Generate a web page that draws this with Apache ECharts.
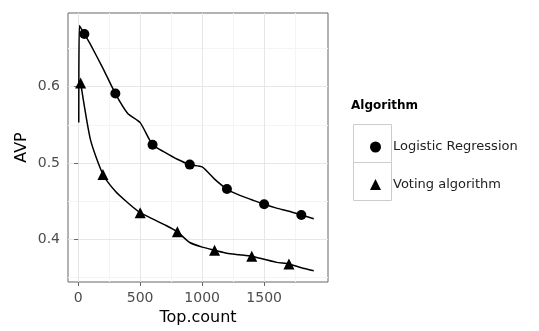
<!DOCTYPE html>
<html>
<head>
<meta charset="utf-8">
<script src="https://cdn.jsdelivr.net/npm/echarts@6/dist/echarts.min.js"></script>
<style>
  html, body { margin: 0; padding: 0; background: #fff; }
  #chart { width: 539px; height: 331px; }
</style>
</head>
<body>
<div id="chart"></div>
<script>
// values
const lrCounts = [5, 10, 50, 100, 200, 300, 400, 500, 600, 700, 800, 900, 1000, 1100, 1200, 1300, 1400, 1500, 1600, 1700, 1800, 1900]
const lrAvp = [0.553, 0.680, 0.669, 0.655, 0.624, 0.591, 0.565, 0.553, 0.524, 0.514, 0.505, 0.498, 0.495, 0.479, 0.466, 0.458, 0.452, 0.446, 0.441, 0.437, 0.432, 0.427]
const lrMarked = [50, 300, 600, 900, 1200, 1500, 1800]

const voteCounts = [20, 100, 200, 300, 400, 500, 600, 700, 800, 900, 1000, 1100, 1200, 1300, 1400, 1500, 1600, 1700, 1800, 1900]
const voteAvp = [0.605, 0.530, 0.485, 0.463, 0.448, 0.435, 0.427, 0.419, 0.410, 0.396, 0.390, 0.386, 0.382, 0.380, 0.378, 0.374, 0.370, 0.368, 0.363, 0.359]
const voteMarked = [20, 200, 500, 800, 1100, 1400, 1700]

const xTicks = [0, 500, 1000, 1500]
const xMinor = [250, 750, 1250, 1750]
const yTicks = [0.4, 0.5, 0.6]
const yMinor = [0.35, 0.45, 0.55, 0.65]

const SERIES_NAMES = ['Logistic Regression', 'Voting algorithm']
const FONT = 'DejaVu Sans'

const pairs = (xs, ys) => xs.map((x, i) => [x, ys[i]])
const marked = (xs, ys, keep) => pairs(xs, ys).filter((p) => keep.includes(p[0]))

const chart = echarts.init(document.getElementById('chart'))

const gridLines = [
  ...xMinor.map((v) => ({ xAxis: v, lineStyle: { color: '#f4f4f4' } })),
  ...yMinor.map((v) => ({ yAxis: v, lineStyle: { color: '#f4f4f4' } })),
  ...xTicks.map((v) => ({ xAxis: v, lineStyle: { color: '#e6e6e6' } })),
  ...yTicks.map((v) => ({ yAxis: v, lineStyle: { color: '#e6e6e6' } }))
]

const option = {
  animation: false,
  textStyle: { fontFamily: FONT },
  title: {
    text: 'Algorithm',
    left: 351,
    top: 100,
    padding: 0,
    textStyle: { fontFamily: FONT, fontSize: 12, fontWeight: 'bold', color: '#000' }
  },
  grid: {
    left: 68,
    top: 13,
    width: 260,
    height: 271,
    show: true,
    borderColor: '#666',
    borderWidth: 1,
    backgroundColor: '#fff'
  },
  legend: {
    data: SERIES_NAMES,
    orient: 'vertical',
    left: 365,
    top: 134,
    itemWidth: 11,
    itemHeight: 11,
    itemGap: 21.5,
    selectedMode: false,
    textStyle: { fontFamily: FONT, fontSize: 13, color: '#222', lineHeight: 16, padding: [0, 0, 0, 7] }
  },
  graphic: [
    { type: 'rect', left: 351, top: 122, shape: { width: 38, height: 38 }, style: { fill: 'none', stroke: '#cccccc', lineWidth: 1 }, z: -1 },
    { type: 'rect', left: 351, top: 160, shape: { width: 38, height: 38 }, style: { fill: 'none', stroke: '#cccccc', lineWidth: 1 }, z: -1 }
  ],
  xAxis: {
    type: 'value',
    min: -82,
    max: 2015,
    name: 'Top.count',
    nameLocation: 'middle',
    nameGap: 28,
    nameTextStyle: { fontFamily: FONT, fontSize: 16, color: '#000' },
    axisLine: { show: false },
    axisTick: { show: true, length: 4, customValues: xTicks, lineStyle: { color: '#666' } },
    axisLabel: { customValues: xTicks, margin: 9, fontFamily: FONT, fontSize: 14, color: '#4d4d4d', formatter: (v) => String(v) },
    splitLine: { show: false }
  },
  yAxis: {
    type: 'value',
    min: 0.3443,
    max: 0.6965,
    name: 'AVP',
    nameLocation: 'middle',
    nameGap: 38,
    nameTextStyle: { fontFamily: FONT, fontSize: 16, color: '#000' },
    axisLine: { show: false },
    axisTick: { show: true, length: 4, customValues: yTicks, lineStyle: { color: '#666' } },
    axisLabel: { customValues: yTicks, margin: 8, fontFamily: FONT, fontSize: 14, color: '#4d4d4d', formatter: (v) => v.toFixed(1) },
    splitLine: { show: false }
  },
  series: [
    {
      name: 'grid',
      type: 'line',
      data: [],
      silent: true,
      z: 0,
      markLine: {
        silent: true,
        z: 0,
        symbol: 'none',
        label: { show: false },
        lineStyle: { type: 'solid', width: 1 },
        emphasis: { disabled: true },
        data: gridLines
      }
    },
    {
      name: 'lr-line',
      type: 'line',
      data: pairs(lrCounts, lrAvp),
      showSymbol: false,
      smooth: 0.2,
      lineStyle: { color: '#000', width: 1.5 },
      z: 2
    },
    {
      name: 'vote-line',
      type: 'line',
      data: pairs(voteCounts, voteAvp),
      showSymbol: false,
      smooth: 0.2,
      lineStyle: { color: '#000', width: 1.5 },
      z: 2
    },
    {
      name: SERIES_NAMES[0],
      type: 'scatter',
      data: marked(lrCounts, lrAvp, lrMarked),
      symbol: 'circle',
      symbolSize: 10,
      itemStyle: { color: '#000', opacity: 1 },
      z: 3
    },
    {
      name: SERIES_NAMES[1],
      type: 'scatter',
      data: marked(voteCounts, voteAvp, voteMarked),
      symbol: 'triangle',
      symbolSize: 11,
      itemStyle: { color: '#000', opacity: 1 },
      z: 3
    }
  ]
}

chart.setOption(option)
</script>
</body>
</html>
